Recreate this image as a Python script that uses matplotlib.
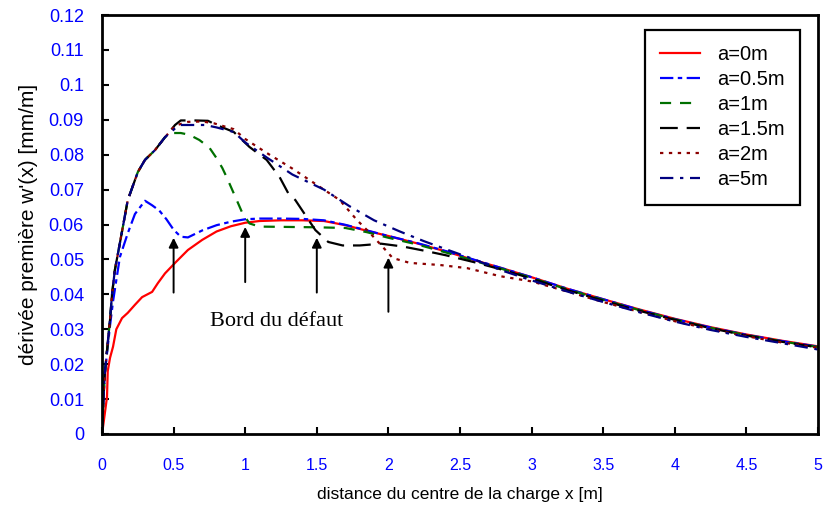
import matplotlib
matplotlib.use("Agg")
import matplotlib.pyplot as plt

plt.rcParams['font.family'] = ['Liberation Sans', 'DejaVu Sans']

# --- data ---
x_a0 = [0, 0.007, 0.035, 0.04, 0.056, 0.077, 0.1, 0.14, 0.18, 0.23, 0.28, 0.35, 0.39, 0.44,
        0.51, 0.6, 0.7, 0.8, 0.9, 1.0, 1.1, 1.25, 1.4, 1.55, 1.7, 1.85, 2.0, 2.2, 2.4, 2.6,
        2.8, 3.0, 3.25, 3.5, 3.75, 4.0, 4.25, 4.5, 4.75, 5.0]
y_a0 = [0, 0.002, 0.0106, 0.018, 0.0218, 0.025, 0.030, 0.0332, 0.0347, 0.037, 0.0392,
        0.0407, 0.0432, 0.046, 0.049, 0.0527, 0.0556, 0.058, 0.0595, 0.0605, 0.061, 0.0612,
        0.0612, 0.061, 0.0598, 0.0582, 0.0567, 0.0546, 0.0523, 0.0498, 0.0474, 0.0449,
        0.0416, 0.0386, 0.0357, 0.0330, 0.0306, 0.0285, 0.0267, 0.0251]

x_a05 = [0, 0.01, 0.02, 0.04, 0.056, 0.077, 0.125, 0.18, 0.23, 0.3, 0.35, 0.4, 0.45, 0.5,
         0.55, 0.6, 0.7, 0.8, 0.9, 1.0, 1.1, 1.25, 1.4, 1.55, 1.7, 1.85, 2.0, 2.2, 2.4,
         2.6, 2.8, 3.0, 3.25, 3.5, 3.75, 4.0, 4.25, 4.5, 4.75, 5.0]
y_a05 = [0, 0.01, 0.0175, 0.025, 0.031, 0.038, 0.0507, 0.0575, 0.063, 0.0668, 0.0655,
         0.064, 0.0615, 0.0585, 0.0565, 0.0563, 0.0583, 0.0598, 0.0608, 0.0615, 0.0617,
         0.0617, 0.0616, 0.0612, 0.0599, 0.0583, 0.0567, 0.0547, 0.0524, 0.0499, 0.0474,
         0.0449, 0.0416, 0.0386, 0.0356, 0.0329, 0.0305, 0.0284, 0.0266, 0.0250]

x_a1 = [0, 0.01, 0.02, 0.04, 0.056, 0.07, 0.09, 0.125, 0.18, 0.25, 0.3, 0.37, 0.44, 0.5,
        0.55, 0.61, 0.68, 0.75, 0.8, 0.84, 0.87, 0.93, 0.98, 1.03, 1.1, 1.3, 1.5, 1.7,
        1.85, 2.0, 2.2, 2.4, 2.6, 2.8, 3.0, 3.25, 3.5, 3.75, 4.0, 4.25, 4.5, 4.75, 5.0]
y_a1 = [0, 0.01, 0.0175, 0.026, 0.0327, 0.040, 0.047, 0.0547, 0.067, 0.075, 0.0785,
        0.0813, 0.085, 0.0862, 0.0862, 0.0857, 0.0842, 0.082, 0.079, 0.0762, 0.0736, 0.068,
        0.0633, 0.0603, 0.0594, 0.0593, 0.0592, 0.059, 0.0578, 0.0562, 0.0543, 0.052,
        0.0496, 0.0472, 0.0447, 0.0414, 0.0384, 0.0355, 0.0328, 0.0304, 0.0283, 0.0265,
        0.0249]

x_a15 = [0, 0.01, 0.02, 0.04, 0.056, 0.07, 0.09, 0.125, 0.18, 0.25, 0.3, 0.37, 0.44, 0.51,
         0.55, 0.65, 0.74, 0.8, 0.92, 1.03, 1.15, 1.24, 1.3, 1.35, 1.42, 1.49, 1.58, 1.68,
         1.8, 1.95, 2.1, 2.25, 2.4, 2.6, 2.8, 3.0, 3.25, 3.5, 3.75, 4.0, 4.25, 4.5, 4.75,
         5.0]
y_a15 = [0, 0.01, 0.0175, 0.026, 0.0327, 0.040, 0.047, 0.0547, 0.067, 0.075, 0.0785,
         0.0813, 0.085, 0.0885, 0.0898, 0.0898, 0.0897, 0.0885, 0.0865, 0.0822, 0.0785,
         0.0736, 0.069, 0.067, 0.0627, 0.0584, 0.055, 0.054, 0.054, 0.0545, 0.0537, 0.0525,
         0.0512, 0.0492, 0.0470, 0.0445, 0.0412, 0.0382, 0.0353, 0.0327, 0.0303, 0.0282,
         0.0264, 0.0248]

x_a2 = [0, 0.01, 0.02, 0.04, 0.056, 0.07, 0.09, 0.125, 0.18, 0.25, 0.3, 0.37, 0.44, 0.51,
        0.6, 0.7, 0.78, 0.92, 1.0, 1.15, 1.33, 1.52, 1.66, 1.78, 1.87, 1.96, 2.03, 2.15,
        2.36, 2.55, 2.78, 3.0, 3.25, 3.5, 3.75, 4.0, 4.25, 4.5, 4.75, 5.0]
y_a2 = [0, 0.01, 0.0175, 0.026, 0.0327, 0.040, 0.047, 0.0547, 0.067, 0.075, 0.0785,
        0.0813, 0.085, 0.0883, 0.0894, 0.0895, 0.089, 0.0873, 0.0845, 0.0805, 0.076,
        0.0708, 0.067, 0.0613, 0.0576, 0.0536, 0.0504, 0.049, 0.0484, 0.0475, 0.0452,
        0.0437, 0.0408, 0.0378, 0.0350, 0.0323, 0.0300, 0.0280, 0.0262, 0.0247]

x_a5 = [0, 0.01, 0.02, 0.04, 0.056, 0.07, 0.09, 0.125, 0.18, 0.25, 0.3, 0.37, 0.44, 0.51,
        0.55, 0.72, 0.8, 0.92, 1.0, 1.15, 1.33, 1.55, 1.73, 1.9, 2.08, 2.25, 2.43, 2.6,
        2.78, 3.0, 3.25, 3.5, 3.75, 4.0, 4.25, 4.5, 4.75, 5.0]
y_a5 = [0, 0.01, 0.0175, 0.026, 0.0327, 0.040, 0.047, 0.0547, 0.067, 0.075, 0.0785,
        0.0813, 0.085, 0.0875, 0.0885, 0.0885, 0.0878, 0.0865, 0.0835, 0.0792, 0.0743,
        0.070, 0.0652, 0.0612, 0.058, 0.0552, 0.0525, 0.0500, 0.0470, 0.0440, 0.0408,
        0.0378, 0.0349, 0.0322, 0.0298, 0.0278, 0.0260, 0.0242]

series = [
    (x_a0, y_a0, 'a=0m', '#ff0000', '-'),
    (x_a05, y_a05, 'a=0.5m', '#0000ff', (0, (6, 2, 2, 2))),
    (x_a1, y_a1, 'a=1m', '#007000', (0, (5, 4))),
    (x_a15, y_a15, 'a=1.5m', 'black', (0, (8, 4))),
    (x_a2, y_a2, 'a=2m', '#8b0000', (0, (1.5, 2.5))),
    (x_a5, y_a5, 'a=5m', '#000080', (0, (6, 3, 1.5, 3))),
]

x_ticks = [0, 0.5, 1, 1.5, 2, 2.5, 3, 3.5, 4, 4.5, 5]
x_tick_labels = ['0', '0.5', '1', '1.5', '2', '2.5', '3', '3.5', '4', '4.5', '5']
y_ticks = [0, 0.01, 0.02, 0.03, 0.04, 0.05, 0.06, 0.07, 0.08, 0.09, 0.1, 0.11, 0.12]
y_tick_labels = ['0', '0.01', '0.02', '0.03', '0.04', '0.05', '0.06', '0.07', '0.08',
                 '0.09', '0.1', '0.11', '0.12']

# arrows marking the edge of the defect: (x, y_tail, y_head)
arrows = [(0.5, 0.0405, 0.0562), (1.0, 0.0435, 0.0593), (1.5, 0.0405, 0.0562),
          (2.0, 0.0350, 0.0505)]

fig = plt.figure(figsize=(8.26, 5.12), dpi=100)
ax = fig.add_axes([102 / 826, 1 - 434 / 512, 716 / 826, 419 / 512])

for xs, ys, lab, col, ls in series:
    ax.plot(xs, ys, color=col, linestyle=ls, linewidth=1.6, label=lab)

for xa, y0, y1 in arrows:
    ax.annotate('', xy=(xa, y1), xytext=(xa, y0),
                arrowprops=dict(arrowstyle='-|>', color='black', lw=1.4,
                                mutation_scale=14, shrinkA=0, shrinkB=0))

ax.text(1.22, 0.0323, 'Bord du défaut', family='Liberation Serif', fontsize=16,
        ha='center', va='center')

ax.set_xlim(0, 5)
ax.set_ylim(0, 0.12)
ax.set_xticks(x_ticks)
ax.set_xticklabels(x_tick_labels)
ax.set_yticks(y_ticks)
ax.set_yticklabels(y_tick_labels)
ax.tick_params(axis='both', direction='in', length=5, width=1.5, colors='black',
               labelcolor='#0000ff')
ax.tick_params(axis='y', pad=13, labelsize=13)
ax.tick_params(axis='x', pad=17, labelsize=11.5)
for sp in ax.spines.values():
    sp.set_linewidth(2)

ax.set_xlabel('distance du centre de la charge x [m]', fontsize=12.5, labelpad=10)
ax.set_ylabel("dérivée première w'(x) [mm/m]", fontsize=15, labelpad=8)

leg = ax.legend(loc='upper right', bbox_to_anchor=(0.975, 0.964), borderaxespad=0,
                fontsize=14.5, handlelength=2.0, handletextpad=0.85, labelspacing=0.3,
                borderpad=0.75, fancybox=False, framealpha=1, edgecolor='black')
leg.get_frame().set_linewidth(1.6)

fig.savefig('out.png', dpi=100)
